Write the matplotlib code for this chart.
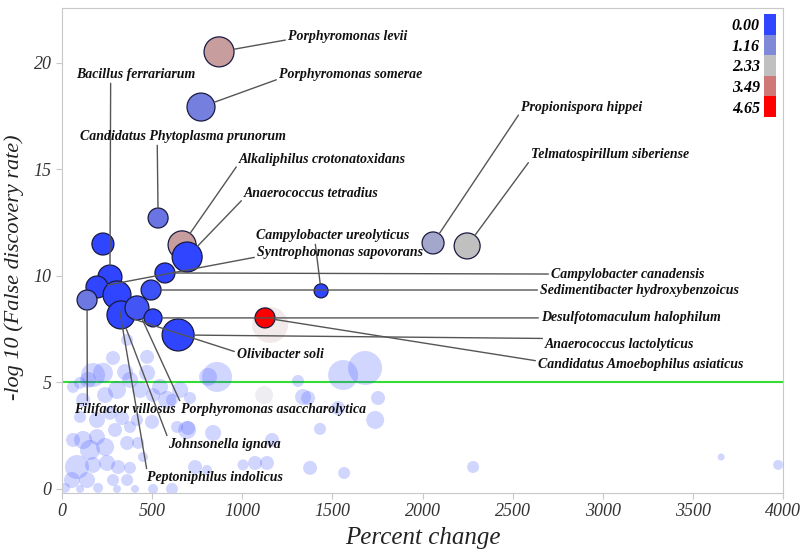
import numpy as np
import matplotlib
matplotlib.use('Agg')
import matplotlib.pyplot as plt
from matplotlib.colors import LinearSegmentedColormap, Normalize

plt.rcParams['font.family'] = ['Liberation Serif', 'DejaVu Serif']

# --- significant taxa (bubbles with outline) ---
sig_x = [871, 771, 533, 666, 694, 227, 266, 194, 139, 305, 327, 416, 494, 505,
         571, 644, 1437, 1126, 2058, 2247]
sig_y = [20.52, 17.93, 12.72, 11.46, 10.89, 11.5, 9.95, 9.48, 8.87, 9.11, 8.17,
         8.5, 9.34, 8.03, 10.14, 7.23, 9.3, 8.03, 11.55, 11.41]
sig_abund = [15, 14, 10, 14, 15, 11, 12, 11, 10, 14, 14, 12, 10, 9, 10, 16, 7,
             10, 11, 13]
sig_val = [2.9, 1.0, 0.85, 2.9, 0.0, 0.0, 0.0, 0.0, 0.9, 0.0, 0.0, 0.3, 0.2,
           0.0, 0.0, 0.0, 0.0, 4.65, 1.8, 2.33]

# --- non-significant taxa (faded) ---
bg_x = [1681, 1559, 860, 810, 1309, 1337, 1365, 1121, 1753, 1737, 1431, 1531,
        1165, 1071, 1137, 1376, 1565, 2280, 3656, 3972, 838, 699, 1004, 738,
        804, 610, 505, 405, 305, 200, 100, 17, 472, 361, 283, 172, 227, 144,
        100, 350, 377, 472, 433, 544, 583, 505, 305, 239, 61, 117, 266, 194,
        100, 333, 416, 499, 694, 377, 294, 117, 194, 239, 155, 61, 361, 422,
        449, 83, 172, 250, 311, 377, 283, 139, 55, 361, 610, 655, 710, 638,
        1154]
bg_y = [5.68, 5.35, 5.26, 5.26, 5.07, 4.32, 4.27, 4.41, 4.27, 3.24, 2.82, 3.8,
        2.3, 1.22, 1.22, 0.99, 0.75, 1.03, 1.5, 1.13, 2.63, 2.86, 1.13, 1.03,
        0.89, 0.0, 0.0, 0.0, 0.0, 0.05, 0.0, 0.05, 6.2, 7.0, 6.15, 5.35, 5.45,
        5.12, 4.98, 5.49, 5.12, 5.45, 4.65, 4.79, 4.18, 4.41, 4.65, 4.41, 4.79,
        4.18, 3.57, 3.24, 3.38, 3.33, 3.24, 3.15, 2.77, 2.91, 2.77, 2.3, 2.44,
        1.97, 1.83, 2.3, 2.16, 2.16, 1.5, 1.03, 1.13, 1.22, 1.03, 0.99, 0.42,
        0.42, 0.42, 0.42, 4.18, 4.65, 4.27, 2.91, 7.7]
bg_abund = [17, 15, 15, 9, 6, 8, 7, 9, 7, 9, 6, 7, 7, 7, 7, 7, 6, 6, 3.5, 5, 8,
            7, 5.5, 7, 5, 6, 5, 4, 4, 5, 4, 5, 7, 6, 7, 12, 10, 8, 6, 8, 8, 8,
            8, 8, 9, 7, 9, 8, 6, 7, 7, 8, 6, 7, 6, 7, 9, 6, 7, 9, 8, 9, 10, 7,
            7, 6, 5, 12, 8, 8, 7, 6, 6, 8, 8, 6, 6, 8, 6, 6, 18]
bg_val = [0.0] * len(bg_x)
bg_val[7] = 2.0
bg_val[-1] = 2.8

# --- labels ---
labels = ['Porphyromonas levii', 'Porphyromonas somerae', 'Bacillus ferrariarum',
          'Candidatus Phytoplasma prunorum', 'Alkaliphilus crotonatoxidans',
          'Anaerococcus tetradius', 'Campylobacter ureolyticus',
          'Syntrophomonas sapovorans', 'Propionispora hippei',
          'Telmatospirillum siberiense', 'Campylobacter canadensis',
          'Sedimentibacter hydroxybenzoicus', 'Desulfotomaculum halophilum',
          'Anaerococcus lactolyticus', 'Candidatus Amoebophilus asiaticus',
          'Olivibacter soli', 'Filifactor villosus',
          'Porphyromonas asaccharolytica', 'Johnsonella ignava',
          'Peptoniphilus indolicus']
label_target = [0, 1, 6, 2, 3, 4, 16, 7, 18, 19, 14, 12, 13, 15, 17, 10, 8, 11,
                10, 9]
label_x = [1254, 1204, 78, 100, 982, 1010, 1076, 1082, 2547, 2602, 2713, 2652,
           2657, 2680, 2641, 971, 67, 660, 588, 472]
label_y = [21.22, 19.44, 19.48, 16.57, 15.49, 13.85, 11.92, 11.08, 17.93, 15.68,
           10.09, 9.34, 8.03, 6.76, 5.82, 6.29, 3.71, 3.71, 2.07, 0.52]
label_rel = [(0, 0.3), (0, 0.2), (0.29, 0), (0.375, 0), (0, 0.2), (0, 0.2),
             (0.385, 0), (0, 0.2), (0, 0.2), (0, 0.2), (0, 0.5), (0, 0.5),
             (0, 0.5), (0, 1), (0, 0.8), (0, 0.7), (0.13, 1), (0, 1), (0, 1),
             (0, 1)]

legend_vals = [0.00, 1.16, 2.33, 3.49, 4.65]
legend_cols = ['#2f45ff', '#8088d8', '#c0c0c0', '#d07878', '#ff0000']

cmap = LinearSegmentedColormap.from_list(
    'fc', [(v / legend_vals[-1], c) for v, c in zip(legend_vals, legend_cols)])
norm = Normalize(vmin=0, vmax=legend_vals[-1])


def area(r):
    # bubble radius in px -> marker area in pt^2 (dpi 100)
    return 2.07 * np.asarray(r) ** 2


fig = plt.figure(figsize=(8, 5.56), dpi=100)
ax = fig.add_axes([0.0775, 0.1133, 0.9015, 0.8723])

ax.scatter(bg_x, bg_y, s=area(bg_abund), c=cmap(norm(bg_val)), alpha=0.22,
           edgecolors='none', zorder=2)
ax.axhline(5, color='#33dd33', lw=1.5, zorder=1.5)
ax.scatter(sig_x, sig_y, s=area(sig_abund), c=cmap(norm(sig_val)),
           edgecolors='#1a1a40', linewidths=0.9, zorder=3)

for name, t, tx, ty, rel in zip(labels, label_target, label_x, label_y, label_rel):
    ax.annotate(name, xy=(sig_x[t], sig_y[t]), xytext=(tx, ty),
                ha='left', va='center', fontsize=10, fontweight='bold',
                fontstyle='italic', color='#111111', zorder=5,
                arrowprops=dict(arrowstyle='-', color='#555555', lw=1.0,
                                shrinkA=0, shrinkB=sig_abund[t] * 0.72,
                                relpos=rel))

ax.set_xlim(0, 4000)
ax.set_ylim(-0.19, 22.58)
ax.set_xticks(np.arange(0, 4001, 500))
ax.set_yticks([0, 5, 10, 15, 20])
for sp in ax.spines.values():
    sp.set_color('#c8c8c8')
ax.tick_params(colors='#c8c8c8', labelcolor='#333333', length=4, labelsize=13)
for lab in ax.get_xticklabels() + ax.get_yticklabels():
    lab.set_fontstyle('italic')
ax.set_xlabel('Percent change', fontsize=18, fontstyle='italic', color='#222222',
              labelpad=5)
ax.set_ylabel('-log 10 (False discovery rate)', fontsize=16, fontstyle='italic',
              color='#222222')
ax.yaxis.set_label_coords(-0.052, 0.466)

# colour legend
lax = fig.add_axes([0.955, 0.7896, 0.015, 0.1852])
lax.imshow(np.array(legend_vals)[:, None], cmap=LinearSegmentedColormap.from_list(
    'blk', legend_cols, N=len(legend_cols)), aspect='auto')
lax.set_xticks([])
lax.set_yticks(range(len(legend_vals)))
lax.set_yticklabels(['%.2f' % v for v in legend_vals], fontsize=11.5,
                    fontweight='bold', fontstyle='italic')
lax.tick_params(length=0, pad=3)
for sp in lax.spines.values():
    sp.set_visible(False)

fig.savefig('out.png', dpi=100)
